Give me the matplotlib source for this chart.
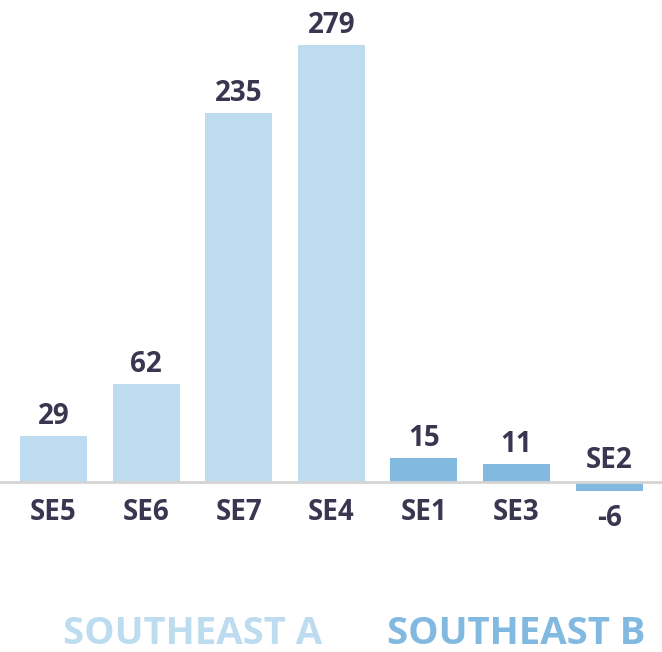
import matplotlib
matplotlib.use("Agg")
import matplotlib.pyplot as plt

categories = ["SE5", "SE6", "SE7", "SE4", "SE1", "SE3", "SE2"]
values = [29, 62, 235, 279, 15, 11, -6]
groups = ["A", "A", "A", "A", "B", "B", "B"]
group_names = {"A": "SOUTHEAST A", "B": "SOUTHEAST B"}
group_colors = {"A": "#bddcf0", "B": "#82b9e1"}
text_color = "#393650"

plt.rcParams['font.family'] = ['Open Sans', 'DejaVu Sans']

fig = plt.figure(figsize=(6.62, 6.52), dpi=100)
ax = fig.add_axes([0, 0, 1, 1])
step = 92.6
x0 = 53.5
ax.set_xlim(-x0 / step, (662 - x0) / step)
scale = 1.566
ax.set_ylim(-(652 - 481.5) / scale, 481.5 / scale)
ax.axis("off")

xs = list(range(len(categories)))
colors = [group_colors[g] for g in groups]
ax.bar(xs, values, width=67 / step, color=colors, zorder=2)
ax.axhline(0, color="#d4d4d4", lw=2, zorder=3)

px = 1 / scale
fw = "bold"
fs = 20
for x, v, c in zip(xs, values, categories):
    if v >= 0:
        ax.text(x, v + 12 * px, str(v), ha="center", va="baseline", fontsize=fs,
                fontweight=fw, color=text_color)
        ax.text(x, -31 * px, c, ha="center", va="center", fontsize=fs,
                fontweight=fw, color=text_color)
    else:
        ax.text(x, 21 * px, c, ha="center", va="center", fontsize=fs,
                fontweight=fw, color=text_color)
        ax.text(x, v - 28 * px, str(v), ha="center", va="center", fontsize=fs,
                fontweight=fw, color=text_color)

for g in ["A", "B"]:
    idx = [i for i, gg in enumerate(groups) if gg == g]
    cx = (idx[0] + idx[-1]) / 2
    ax.text(cx, -152 * px, group_names[g], ha="center", va="center", fontsize=27.5,
            fontweight=fw, color=group_colors[g])

fig.savefig("out.png", dpi=100)
